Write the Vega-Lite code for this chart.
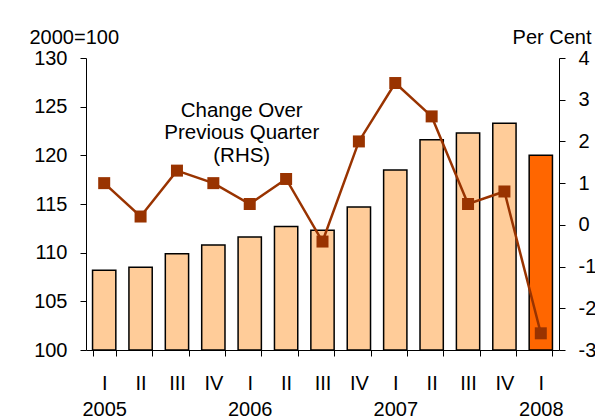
{
  "$schema": "https://vega.github.io/schema/vega-lite/v6.json",
  "width": 473,
  "height": 292,
  "autosize": {"type": "none"},
  "padding": {"left": 86, "top": 58, "right": 36, "bottom": 69},
  "background": "white",
  "config": {
    "view": {"stroke": null},
    "font": "Liberation Sans",
    "axis": {
      "labelFont": "Liberation Sans",
      "labelFontSize": 20,
      "labelColor": "black",
      "domainColor": "black",
      "tickColor": "black",
      "grid": false,
      "titleFont": "Liberation Sans",
      "titleFontSize": 20,
      "titleFontWeight": "normal",
      "titleColor": "black"
    }
  },
  "data": {
    "values": [
      {"period": "2005 I", "index": 108.2, "change": 1.0, "last": false},
      {"period": "2005 II", "index": 108.5, "change": 0.2, "last": false},
      {"period": "2005 III", "index": 109.9, "change": 1.3, "last": false},
      {"period": "2005 IV", "index": 110.8, "change": 1.0, "last": false},
      {"period": "2006 I", "index": 111.6, "change": 0.5, "last": false},
      {"period": "2006 II", "index": 112.7, "change": 1.1, "last": false},
      {"period": "2006 III", "index": 112.3, "change": -0.4, "last": false},
      {"period": "2006 IV", "index": 114.7, "change": 2.0, "last": false},
      {"period": "2007 I", "index": 118.5, "change": 3.4, "last": false},
      {"period": "2007 II", "index": 121.6, "change": 2.6, "last": false},
      {"period": "2007 III", "index": 122.3, "change": 0.5, "last": false},
      {"period": "2007 IV", "index": 123.3, "change": 0.8, "last": false},
      {"period": "2008 I", "index": 120.0, "change": -2.6, "last": true}
    ]
  },
  "layer": [
    {
      "layer": [
        {
          "mark": {"type": "bar", "stroke": "black", "strokeWidth": 1.5},
          "encoding": {
            "x": {
              "field": "period",
              "type": "ordinal",
              "sort": null,
              "scale": {"paddingInner": 0.36, "paddingOuter": 0.18},
              "axis": {
                "title": null,
                "tickBand": "extent",
                "tickSize": 6,
                "labelAngle": 0,
                "labelPadding": 17,
                "labelLineHeight": 26,
                "labelOverlap": false,
                "labelExpr": "split(datum.value, ' ')[1] == 'I' ? [split(datum.value, ' ')[1], split(datum.value, ' ')[0]] : split(datum.value, ' ')[1]"
              }
            },
            "y": {
              "field": "index",
              "type": "quantitative",
              "scale": {"domain": [100, 130], "nice": false, "zero": false},
              "axis": {
                "values": [100, 105, 110, 115, 120, 125, 130],
                "tickSize": 6,
                "labelPadding": 13,
                "title": "2000=100",
                "titleAngle": 0,
                "titleAlign": "left",
                "titleBaseline": "alphabetic",
                "titleX": -57,
                "titleY": -15
              }
            },
            "y2": {"datum": 100},
            "fill": {
              "condition": {"test": "datum.last", "value": "#FF6600"},
              "value": "#FFCC99"
            }
          }
        },
        {
          "data": {
            "values": [
              {"label": ["Change Over", "Previous Quarter", "(RHS)"], "period": "2006 I", "index": 123.97}
            ]
          },
          "mark": {
            "type": "text",
            "align": "center",
            "baseline": "alphabetic",
            "fontSize": 20.5,
            "lineHeight": 22.5,
            "dx": -8,
            "color": "black",
            "font": "Liberation Sans"
          },
          "encoding": {
            "x": {"field": "period", "type": "ordinal", "sort": null},
            "y": {"field": "index", "type": "quantitative"},
            "text": {"field": "label"}
          }
        }
      ]
    },
    {
      "encoding": {
        "x": {"field": "period", "type": "ordinal", "sort": null},
        "y": {
          "field": "change",
          "type": "quantitative",
          "scale": {"domain": [-3, 4], "nice": false, "zero": false},
          "axis": {
            "orient": "right",
            "values": [-3, -2, -1, 0, 1, 2, 3, 4],
            "tickSize": 6,
            "labelPadding": 13,
            "labelExpr": "datum.value < 0 ? '-' + abs(datum.value) : '' + datum.value",
            "title": "Per Cent",
            "titleAngle": 0,
            "titleAlign": "right",
            "titleBaseline": "alphabetic",
            "titleX": 32,
            "titleY": -15
          }
        }
      },
      "layer": [
        {"mark": {"type": "line", "color": "#993300", "strokeWidth": 2.5}},
        {"mark": {"type": "point", "shape": "square", "filled": true, "size": 144, "color": "#993300", "opacity": 1}}
      ]
    }
  ],
  "resolve": {"scale": {"y": "independent"}}
}
